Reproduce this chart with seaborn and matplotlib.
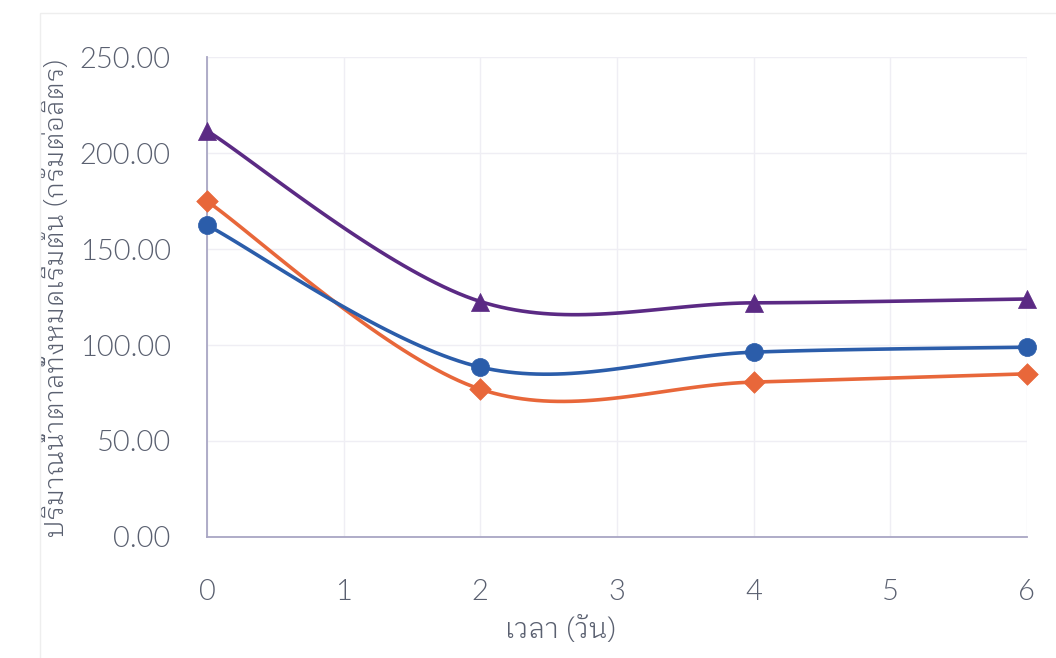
import numpy as np
import pandas as pd
import matplotlib
matplotlib.use("Agg")
import matplotlib.pyplot as plt
import seaborn as sns
from matplotlib import font_manager as fm
from matplotlib.ft2font import FT2Font

# Sampling days and total initial sugar (g/L) for the three treatments
days = [0, 2, 4, 6]
sugar_circle = [162.5, 88.5, 96.3, 98.9]
sugar_diamond = [175.0, 77.0, 80.7, 85.0]
sugar_triangle = [211.7, 122.7, 122.0, 124.0]

x_ticks = [0, 1, 2, 3, 4, 5, 6]
y_ticks = [0, 50, 100, 150, 200, 250]
x_label = "เวลา (วัน)"
y_label = "ปริมาณน้ำตาลทั้งหมดเริ่มต้น (กรัมต่อลิตร)"


def weight_num(w):
    if isinstance(w, str):
        return fm.weight_dict.get(w, 400)
    return int(w)


def thai_fonts():
    found = []
    for f in fm.fontManager.ttflist:
        try:
            ft = FT2Font(f.fname)
            if ft.get_char_index(ord("ก")) and ft.get_char_index(ord("(")):
                found.append(f)
        except Exception:
            pass
    return found


def smooth(xs, ys, n=40):
    """Bezier smoothing through every point, spreadsheet style."""
    pts = np.column_stack([xs, ys]).astype(float)
    ext = np.vstack([pts[0], pts, pts[-1]])
    out = []
    t = np.linspace(0, 1, n)[:, None]
    for i in range(len(pts) - 1):
        p0, p3 = ext[i + 1], ext[i + 2]
        c1 = p0 + (ext[i + 2] - ext[i]) / 6.0
        c2 = p3 - (ext[i + 3] - ext[i + 1]) / 6.0
        seg = ((1 - t) ** 3) * p0 + 3 * ((1 - t) ** 2) * t * c1 + 3 * (1 - t) * t ** 2 * c2 + t ** 3 * p3
        out.append(seg if i == 0 else seg[1:])
    seg = np.vstack(out)
    return seg[:, 0], seg[:, 1]


sns.set_theme(style="white")
candidates = thai_fonts()
if candidates:
    # looped Thai letterforms, lightest upright face of that family
    looped = [f for f in candidates if "Looped" in f.name]
    pool = looped or [f for f in candidates if f.name == candidates[0].name]
    pool = [f for f in pool if f.style == "normal"] or pool
    light = min(pool, key=lambda f: (abs(weight_num(f.weight) - 300), f.stretch != "normal"))
    thai_prop = lambda size: fm.FontProperties(fname=light.fname, size=size)
    plt.rcParams["font.family"] = [light.name, "DejaVu Sans"]
else:
    thai_prop = lambda size: fm.FontProperties(family="DejaVu Sans", size=size)

fig = plt.figure(figsize=(10.56, 6.58), dpi=100)
ax = fig.add_axes([0.196, 0.184, 0.7765, 0.729])

series = [
    ("diamond", sugar_diamond, "#e8673a", "D", 11),
    ("circle", sugar_circle, "#2b5daa", "o", 13),
    ("triangle", sugar_triangle, "#5b2a84", "^", 13),
]
for name, vals, color, marker, ms in series:
    sx, sy = smooth(days, vals)
    sns.lineplot(x=sx, y=sy, sort=False, color=color, lw=2.6, ax=ax, zorder=3)
    sns.scatterplot(x=days, y=vals, marker=marker, s=ms ** 2, color=color,
                    edgecolor=color, linewidth=0.5, ax=ax, zorder=4, clip_on=False)

ax.set_xlim(0, 6)
ax.set_ylim(0, 250)
ax.set_xticks(x_ticks)
ax.set_yticks(y_ticks)

text_c = "#5a6070"
num_font = dict(family=["Lato", "DejaVu Sans"], weight=300, size=21, color=text_c)
ax.set_xticklabels([str(v) for v in x_ticks], **num_font)
ax.set_yticklabels([f"{v:.2f}" for v in y_ticks], **num_font)

grid_c = "#efeef4"
ax.grid(True, which="major", color=grid_c, lw=1.0)
ax.set_axisbelow(True)
for side in ["top", "right"]:
    ax.spines[side].set_visible(False)
for side in ["left", "bottom"]:
    ax.spines[side].set_color("#a9a6c4")
    ax.spines[side].set_linewidth(1.3)

ax.tick_params(axis="both", length=0)
ax.tick_params(axis="x", pad=30)
ax.tick_params(axis="y", pad=26)

ax.set_xlabel(x_label, fontproperties=thai_prop(20), color=text_c)
ax.set_ylabel(y_label, fontproperties=thai_prop(18.5), color=text_c)
ax.xaxis.set_label_coords(0.432, -0.165)
ax.yaxis.set_label_coords(-0.168, 0.5)

# faint chart-area frame
fig.add_artist(plt.Rectangle((0.038, -0.02), 0.99, 1.0, fill=False,
                             edgecolor="#eeeeee", lw=1.0, transform=fig.transFigure))

fig.savefig("out.png", dpi=100, facecolor="white")
